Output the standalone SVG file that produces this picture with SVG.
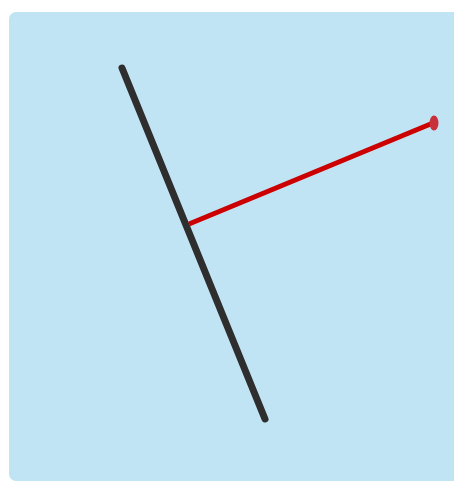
<svg xmlns="http://www.w3.org/2000/svg" width="454" height="482" viewBox="0 0 454 482">
<style>
.bg{fill:#c1e4f5}
.black{stroke:#2e2e2e;stroke-width:7;stroke-linecap:round}
.red{stroke:#cc0000;stroke-width:5}
</style>
<rect x="0" y="0" width="454" height="482" fill="#ffffff"/>
<rect class="bg" x="9" y="12" width="460" height="469" rx="7"/>
<g id="connectors">
<line class="black" x1="122" y1="68" x2="265" y2="419"/>
<line class="red" x1="189" y1="224" x2="433" y2="123"/>
</g>
<g id="endpoint">
<ellipse cx="434" cy="123" rx="4.5" ry="7.5" fill="#c8303a"/>
</g>
</svg>
